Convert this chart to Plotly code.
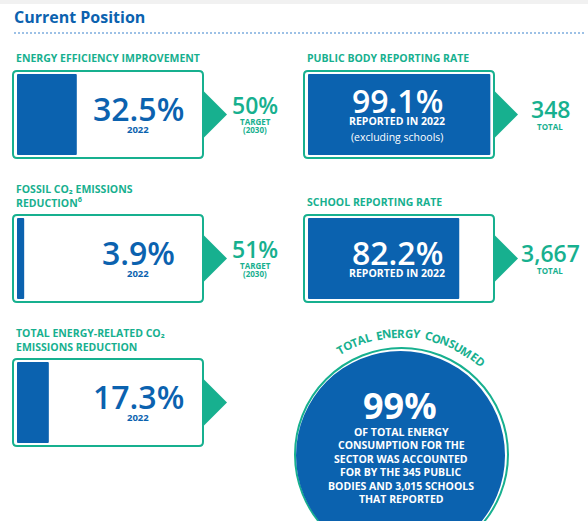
import math
import plotly.graph_objects as go

# Panel data
panel_titles = [
    "ENERGY EFFICIENCY IMPROVEMENT",
    "PUBLIC BODY REPORTING RATE",
    "FOSSIL CO₂ EMISSIONS<br>REDUCTION<sup>6</sup>",
    "SCHOOL REPORTING RATE",
    "TOTAL ENERGY-RELATED CO₂<br>EMISSIONS REDUCTION",
]
panel_values = [32.5, 99.1, 3.9, 82.2, 17.3]
panel_captions = ["2022", "REPORTED IN 2022", "2022", "REPORTED IN 2022", "2022"]
panel_notes = ["", "(excluding schools)", "", "", ""]
side_values = ["50%", "348", "51%", "3,667", ""]
side_labels = [["TARGET", "(2030)"], ["TOTAL"], ["TARGET", "(2030)"], ["TOTAL"], []]

# Circle data
ring_title = "TOTAL ENERGY CONSUMED"
total_share = "99%"
total_lines = [
    "OF TOTAL ENERGY",
    "CONSUMPTION FOR THE",
    "SECTOR WAS ACCOUNTED",
    "FOR BY THE 345 PUBLIC",
    "BODIES AND 3,015 SCHOOLS",
    "THAT REPORTED",
]

BLUE = "#0b62af"
TEAL = "#17b08f"
FONT = "Open Sans"

W, H = 588, 521
col_x = [13, 304]
row_y = [71, 215, 359]
slots = [(0, 0), (1, 0), (0, 1), (1, 1), (0, 2)]
BOX_W, BOX_H = 190, 87
FILL_W = 184


def rounded_rect(x0, y0, x1, y1, r):
    return (f"M{x0+r},{y0} L{x1-r},{y0} Q{x1},{y0} {x1},{y0+r} "
            f"L{x1},{y1-r} Q{x1},{y1} {x1-r},{y1} L{x0+r},{y1} "
            f"Q{x0},{y1} {x0},{y1-r} L{x0},{y0+r} Q{x0},{y0} {x0+r},{y0} Z")


shapes = []
annotations = []


def text(x, y, s, size, color, weight="bold", xanchor="center", angle=0):
    annotations.append(dict(
        x=x, y=y, xref="x", yref="y", text=s, showarrow=False,
        xanchor=xanchor, yanchor="middle", textangle=angle, align=xanchor if xanchor != "center" else "center",
        font=dict(family=FONT, size=size, color=color, weight=weight),
    ))


# header
shapes.append(dict(type="rect", x0=0, x1=W, y0=0, y1=4, fillcolor="#f1f1f1",
                   line=dict(width=0), layer="below"))
text(12, 17, "Current Position", 16, BLUE, xanchor="left")
shapes.append(dict(type="line", x0=14, x1=584, y0=33, y1=33,
                   line=dict(color="#9dc1e6", width=2, dash="2px,2px")))

bar_y, bar_x, bar_base, bar_w = [], [], [], []
for i, (c, r) in enumerate(slots):
    bx, by = col_x[c], row_y[r]
    cy = by + BOX_H / 2
    # fill bar
    bar_y.append(cy)
    bar_x.append(panel_values[i] / 100 * FILL_W)
    bar_base.append(bx + 4)
    bar_w.append(BOX_H - 6)
    # outline
    shapes.append(dict(type="path", path=rounded_rect(bx, by, bx + BOX_W, by + BOX_H, 4),
                       line=dict(color=TEAL, width=2), fillcolor="rgba(0,0,0,0)"))
    # arrow
    ax = bx + BOX_W
    shapes.append(dict(type="path", path=f"M{ax},{cy-24} L{ax+24},{cy} L{ax},{cy+24} Z",
                       fillcolor=TEAL, line=dict(width=0)))
    # title
    nl = panel_titles[i].count("<br>") + 1
    text(bx + 1, by - 13 - 6.5 * (nl - 1), panel_titles[i], 10.5, TEAL, xanchor="left")
    # value
    inside = panel_values[i] > 60
    vcol = "white" if inside else BLUE
    tx = bx + 93 if c == 1 else bx + 125
    shift = 8 if panel_notes[i] else 0
    text(tx, by + 37 - shift, f"{panel_values[i]:.1f}%", 32, vcol, weight=600)
    text(tx, by + 58 - shift, panel_captions[i], 10.5 if inside else 9.5, vcol)
    if panel_notes[i]:
        text(tx, by + 66, panel_notes[i], 10.5, "white", weight="normal")
    # side value
    if side_values[i]:
        sx = bx + 246 if c == 1 else bx + 242
        sy = by + 38 if c == 1 else by + 34
        text(sx, sy, side_values[i], 23, TEAL, weight=600)
        for k, lab in enumerate(side_labels[i]):
            text(sx, by + (55 if c == 1 else 50) + 8.5 * k, lab, 8, TEAL)

# circle
rcx, rcy, rr = 401.5, 454.5, 106.5
shapes.append(dict(type="circle", x0=rcx - rr, x1=rcx + rr, y0=rcy - rr, y1=rcy + rr,
                   line=dict(color=TEAL, width=2), fillcolor="rgba(0,0,0,0)"))
bcx, bcy, br = 400.5, 455.5, 104.5
shapes.append(dict(type="circle", x0=bcx - br, x1=bcx + br, y0=bcy - br, y1=bcy + br,
                   line=dict(width=0), fillcolor=BLUE))

# curved title: one character at a time along the arc
def cw(ch):
    if ch == " ":
        return 0.32
    if ch in "MW":
        return 0.86
    if ch in "OGDNUC":
        return 0.72
    return 0.6

centers, acc = [], 0
for ch in ring_title:
    w = cw(ch)
    centers.append(acc + w / 2)
    acc += w
a0, a1 = -30.0, 40.3
for ch, p in zip(ring_title, centers):
    if ch == " ":
        continue
    t = (p - centers[0]) / (centers[-1] - centers[0])
    ang = a0 + t * (a1 - a0)
    rad = math.radians(ang)
    text(rcx + 121.5 * math.sin(rad), rcy - 121.5 * math.cos(rad), ch, 11.5, TEAL, angle=ang)

text(400, 405, total_share, 36, "white")
for k, line in enumerate(total_lines):
    text(401, 431.5 + 13.5 * k, line, 10.5, "white")

fig = go.Figure(go.Bar(
    orientation="h", y=bar_y, x=bar_x, base=bar_base, width=bar_w,
    marker=dict(color=BLUE, line=dict(width=0)), hoverinfo="skip",
))
fig.update_layout(
    width=W, height=H, margin=dict(l=0, r=0, t=0, b=0),
    paper_bgcolor="white", plot_bgcolor="white", showlegend=False,
    xaxis=dict(range=[0, W], visible=False, fixedrange=True),
    yaxis=dict(range=[H, 0], visible=False, fixedrange=True),
    shapes=shapes, annotations=annotations, barcornerradius=1,
)
fig.write_html("out.html", config={"displayModeBar": False},
               post_script="document.body.style.margin='0';document.body.style.overflow='hidden';")
